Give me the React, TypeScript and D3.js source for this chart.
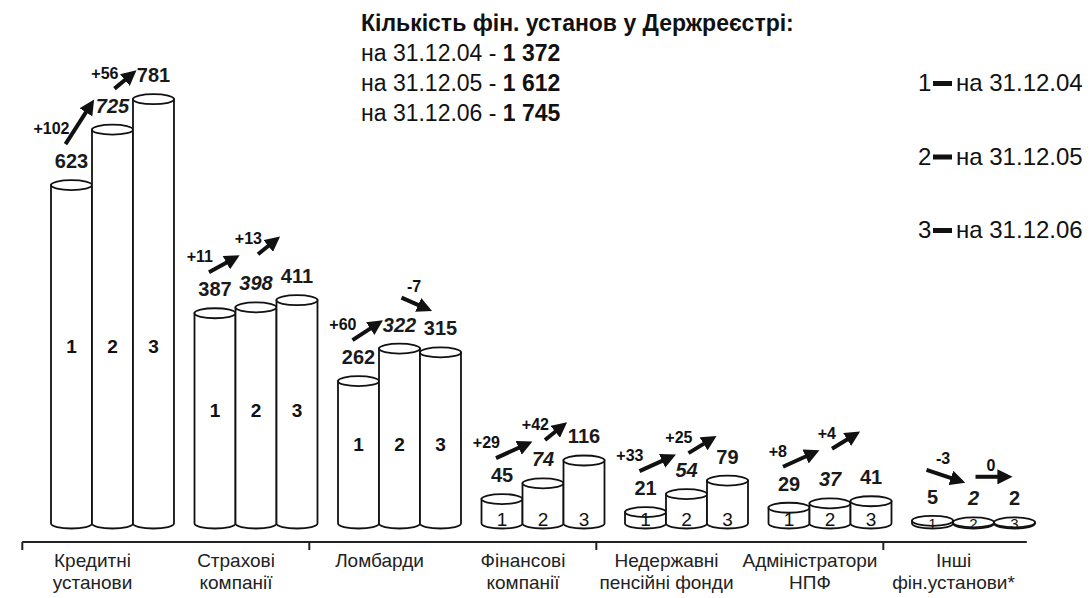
import React from 'react';
import * as d3 from 'd3';

const categories = [
  'Кредитні\nустанови',
  'Страхові\nкомпанії',
  'Ломбарди',
  'Фінансові\nкомпанії',
  'Недержавні\nпенсійні фонди',
  'Адміністратори\nНПФ',
  'Інші\nфін.установи*',
];
const seriesKeys = ['1', '2', '3'];
const seriesDates = ['на 31.12.04', 'на 31.12.05', 'на 31.12.06'];
const values2004 = [623, 387, 262, 45, 21, 29, 5];
const values2005 = [725, 398, 322, 74, 54, 37, 2];
const values2006 = [781, 411, 315, 116, 79, 41, 2];
const registryTotals = ['1 372', '1 612', '1 745'];
const titleText = 'Кількість фін. установ у Держреєстрі:';

const W = 1091;
const H = 598;
const FONT = '"Liberation Sans", Arial, Helvetica, sans-serif';
const RY = 5;

const x = d3.scaleBand<string>().domain(categories).range([51, 1035]).paddingInner(0.143).paddingOuter(0);
const xs = d3.scaleBand<string>().domain(seriesKeys).range([0, x.bandwidth()]);
const y = d3.scaleLinear().domain([0, 800]).range([523.5, 88.9]);
const legendY = d3.scalePoint<string>().domain(seriesKeys).range([91, 238]);
const infoY = d3.scalePoint<string>().domain(['title', ...seriesKeys]).range([31, 121]);

const AXIS_Y = 542;

function fmtChange(d: number) {
  if (d > 0) return '+' + d;
  if (d < 0) return '-' + Math.abs(d);
  return '0';
}

const Cylinder: React.FC<{ x0: number; w: number; top: number; base: number }> = ({ x0, w, top, base }) => {
  const rx = w / 2;
  const body = `M${x0},${top} L${x0},${base} A${rx},${RY} 0 0 0 ${x0 + w},${base} L${x0 + w},${top} Z`;
  return (
    <g>
      <path d={body} fill="#fff" stroke="#111" strokeWidth={1.8} />
      <ellipse cx={x0 + rx} cy={top} rx={rx} ry={RY} fill="#fff" stroke="#111" strokeWidth={1.8} />
    </g>
  );
};

export default function App() {
  const bw = xs.bandwidth();
  const base = y(0);

  const groups = categories.map((c, i) => {
    const vals = [values2004[i], values2005[i], values2006[i]];
    const gx = x(c)!;
    const cx = seriesKeys.map((k) => gx + xs(k)! + bw / 2);
    const tops = vals.map((v) => y(v));
    const labelBase = tops.map((t) => t - 17);
    const labelW = vals.map((v) => String(v).length * 11.1);

    // arrows between consecutive years
    const arrows: { sx: number; sy: number; ex: number; ey: number; d: number }[] = [];
    let prevEnd: number | null = null;
    for (let j = 0; j < 2; j++) {
      const d = vals[j + 1] - vals[j];
      const sx = j === 0 ? cx[j] - 6 : cx[j] + 2;
      let sy = d < 0 ? labelBase[j] - 34 : labelBase[j] - 24;
      if (prevEnd !== null) sy = Math.min(sy, prevEnd - 4);
      let ex: number;
      let ey: number;
      if (d > 0) {
        ex = cx[j + 1] - labelW[j + 1] / 2 - 5;
        ey = Math.min(labelBase[j + 1] - 8, sy - 14);
      } else if (d < 0) {
        ex = cx[j + 1] - 14;
        ey = sy + 11;
      } else {
        ex = cx[j + 1] - 8;
        ey = sy;
      }
      prevEnd = ey;
      arrows.push({ sx, sy, ex, ey, d });
    }

    const h = base - tops[0];
    const numOffset = h > 60 ? h / 2 + 8 : Math.min(5, h / 2 + 0.5);
    const numY = base - numOffset + 7;

    return { c, vals, gx, cx, tops, labelBase, arrows, numY, small: h < 60, tiny: h < 5 };
  });

  const tickCats = categories.filter((_, i) => i % 2 === 0);
  const tickX = tickCats.map((c) => x(c)! - x.step() * 0.2);
  const axisEnd = tickX[tickX.length - 1] + x.step();

  return (
    <svg
      width={W}
      height={H}
      style={{ position: 'absolute', left: 0, top: 0, display: 'block', background: '#fff' }}
      fontFamily={FONT}
    >
      <defs>
        <marker id="ah" viewBox="0 0 10 10" refX="6" refY="5" markerWidth="3.8" markerHeight="3.8" orient="auto">
          <path d="M0,0 L10,5 L0,10 Z" fill="#111" />
        </marker>
      </defs>
      <rect width={W} height={H} fill="#fff" />

      {/* title block */}
      <text x={361} y={infoY('title')} fontSize={23} fontWeight="bold" fill="#111">
        {titleText}
      </text>
      {seriesKeys.map((k, i) => (
        <text key={k} x={361} y={infoY(k)} fontSize={23} fill="#111" style={{ whiteSpace: 'pre' }}>
          <tspan>{seriesDates[i] + ' - '}</tspan>
          <tspan fontWeight="bold">{registryTotals[i]}</tspan>
        </text>
      ))}

      {/* legend */}
      {seriesKeys.map((k, i) => (
        <g key={k}>
          <text x={918} y={legendY(k)} fontSize={24} fill="#111">{k}</text>
          <rect x={933} y={legendY(k)! - 10} width={19} height={5} fill="#111" />
          <text x={956} y={legendY(k)} fontSize={24} fill="#111">{seriesDates[i]}</text>
        </g>
      ))}

      {/* cylinders */}
      {groups.map((g) => (
        <g key={g.c}>
          {seriesKeys.map((k, j) => (
            <Cylinder key={k} x0={g.gx + xs(k)!} w={bw} top={g.tops[j]} base={base} />
          ))}
          {seriesKeys.map((k, j) => (
            <text
              key={'n' + k}
              x={g.cx[j]}
              y={g.numY}
              textAnchor="middle"
              fontSize={g.tiny ? 15 : 19}
              fontWeight={g.small ? 'normal' : 'bold'}
              fill="#111"
            >
              {k}
            </text>
          ))}
          {g.vals.map((v, j) => (
            <text
              key={'v' + j}
              x={g.cx[j]}
              y={g.labelBase[j]}
              textAnchor="middle"
              fontSize={20}
              fontWeight="bold"
              fontStyle={j === 1 ? 'italic' : 'normal'}
              fill="#1a1a1a"
            >
              {v}
            </text>
          ))}
          {g.arrows.map((a, j) => (
            <g key={'a' + j}>
              <line
                x1={a.sx}
                y1={a.sy}
                x2={a.ex}
                y2={a.ey}
                stroke="#111"
                strokeWidth={4}
                markerEnd="url(#ah)"
              />
              {a.d > 0 ? (
                <text x={a.sx + 4} y={a.sy - 10} textAnchor="end" fontSize={16} fontWeight="bold" fill="#111">
                  {fmtChange(a.d)}
                </text>
              ) : (
                <text
                  x={(a.sx + a.ex) / 2}
                  y={Math.min(a.sy, a.ey) - 6}
                  textAnchor="middle"
                  fontSize={16}
                  fontWeight="bold"
                  fill="#111"
                >
                  {fmtChange(a.d)}
                </text>
              )}
            </g>
          ))}
        </g>
      ))}

      {/* axis */}
      <line x1={tickX[0]} x2={axisEnd} y1={AXIS_Y} y2={AXIS_Y} stroke="#222" strokeWidth={2} />
      {tickX.map((tx, i) => (
        <line key={i} x1={tx} x2={tx} y1={AXIS_Y} y2={AXIS_Y + 8} stroke="#222" strokeWidth={2} />
      ))}
      {categories.map((c) => {
        const lines = c.split('\n');
        const lx = x(c)! + x.bandwidth() / 2 - 20;
        return (
          <text key={c} x={lx} y={567} textAnchor="middle" fontSize={19} fill="#222">
            {lines.map((l, i) => (
              <tspan key={i} x={lx} dy={i === 0 ? 0 : 22}>
                {l}
              </tspan>
            ))}
          </text>
        );
      })}
    </svg>
  );
}
